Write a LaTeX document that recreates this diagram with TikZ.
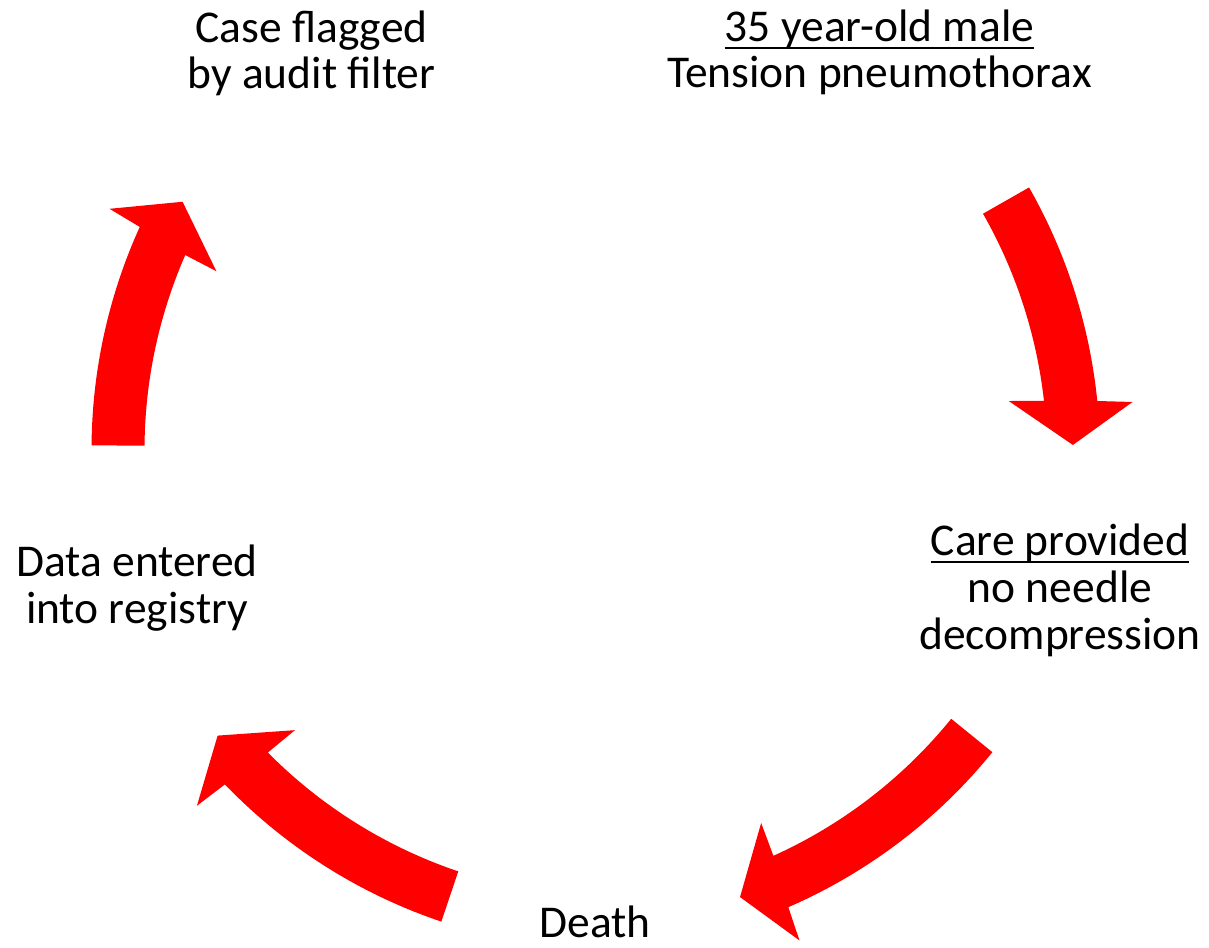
\documentclass[tikz,border=0pt]{standalone}
\usepackage{fontspec}
\setmainfont{Carlito}
\definecolor{arrowred}{RGB}{255,0,0}
\newcommand\redarrow[8]{%
  \fill[arrowbody,shift={(#1pt,#2pt)}] (#3:540pt)
    arc[start angle=#3,end angle=#4,radius=540pt]
    -- (#5:575pt) -- (#8:513pt) -- (#6:452pt) -- (#7:487pt)
    arc[start angle=#7,end angle=#3,radius=487pt] -- cycle;}
\begin{document}
\begin{tikzpicture}[
  arrowbody/.style={fill=arrowred},
  lbl/.style={anchor=base,inner sep=0pt,font=\fontsize{45.5}{50}\selectfont},
  uline/.style={line width=2.2pt,black}
]
\fill[white] (0,0) rectangle (1209pt,947pt);
\useasboundingbox (0,0) rectangle (1209pt,947pt);

% arrows
\redarrow{631.5}{497}{179.5}{155.6}{155.2}{156.7}{156.4}{151.06}
\redarrow{560}{492}{29.7}{5.74}{5.29}{6.86}{6.39}{1.12}
\redarrow{573}{535}{-39.05}{-66.5}{-66.8}{-65.4}{-65.7}{-71.0}
\redarrow{614}{537}{-108.65}{-136.1}{-136.5}{-134.9}{-135.3}{-140.6}

% labels
\node[lbl] (case1) at (311.5pt,904pt) {Case flagged};
\node[lbl] (case2) at (311.5pt,858pt) {by audit filter};

\node[lbl] (male1) at (879.5pt,905pt) {35 year-old male};
\node[lbl] (male2) at (879.5pt,859pt) {Tension pneumothorax};
\draw[uline] ([yshift=-6pt]male1.base west) -- ([yshift=-6pt]male1.base east);

\node[lbl] (care1) at (1060pt,391pt) {Care provided};
\node[lbl] (care2) at (1060pt,344pt) {no needle};
\node[lbl] (care3) at (1060pt,297pt) {decompression};
\draw[uline] ([yshift=-6pt]care1.base west) -- ([yshift=-6pt]care1.base east);

\node[lbl] (data1) at (137pt,370pt) {Data entered};
\node[lbl] (data2) at (137pt,323.5pt) {into registry};

\node[lbl] (death) at (595pt,10pt) {Death};
\end{tikzpicture}
\end{document}
